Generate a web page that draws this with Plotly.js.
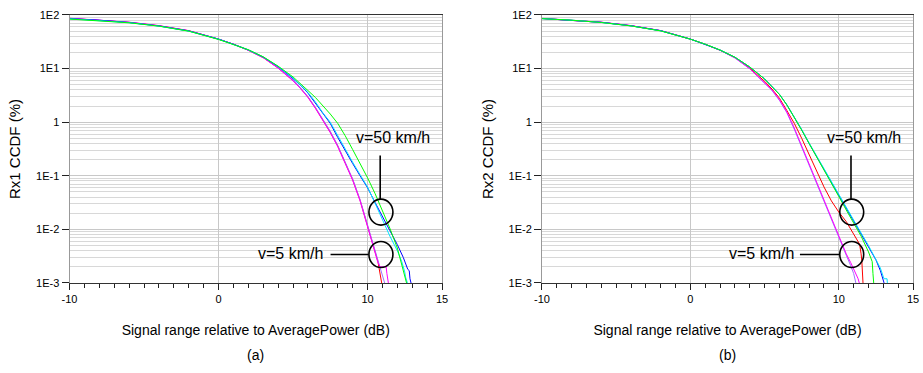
<!DOCTYPE html>
<html>
<head>
<meta charset="utf-8">
<script src="https://cdn.plot.ly/plotly-3.0.1.min.js"></script>
<style>html,body{margin:0;padding:0;background:#fff;}#chart{width:923px;height:373px;}</style>
</head>
<body>
<div id="chart"></div>
<script>
// ---------- Panel (a): Rx1 ----------
const A_red_x   = [-10,-8,-6,-4,-2,0,1,2,3,4,5,5.5,6,6.5,7,7.5,8,8.5,9,9.5,10,10.4,10.7,10.95];
const A_red_y   = [86.5,80.5,73,63,51,35.5,28.5,22,16,10.3,6.0,4.3,2.95,1.85,1.1,0.65,0.36,0.18,0.085,0.035,0.012,0.005,0.0025,0.001];
const A_vio_x   = [-10,-8,-6,-4,-2,0,1,2,3,4,5,5.5,6,6.5,7,7.5,8,8.5,9,9.5,10,10.4,10.7,10.95,11.15];
const A_vio_y   = [86,80,72.5,62.5,50.5,35.5,28.5,22,16.2,10.5,6.1,4.4,3.0,1.9,1.15,0.68,0.37,0.185,0.088,0.036,0.0125,0.0052,0.0027,0.0016,0.001];
const A_mag_x   = [-10,-8,-6,-4,-2,0,1,2,3,4,5,5.5,6,6.5,7,7.5,8,8.5,9,9.5,10,10.4,10.7,10.85,11.25,11.3,11.4];
const A_mag_y   = [87,81,73.5,63.5,51,35.5,28.5,22,16,10.2,5.9,4.25,2.9,1.82,1.08,0.64,0.35,0.175,0.083,0.034,0.0115,0.0049,0.0024,0.002,0.002,0.0015,0.001];
const A_blue_x  = [-10,-8,-6,-4,-2,0,1,2,3,4,5,5.5,6,6.5,7,7.5,8,8.5,9,9.5,10,10.5,11,11.5,12,12.4,12.7,12.8,12.85,12.92];
const A_blue_y  = [85.5,80,72.5,62.5,50.5,35.5,28.5,22.3,16.4,10.9,6.5,4.9,3.5,2.3,1.45,0.95,0.52,0.29,0.17,0.1,0.06,0.032,0.017,0.0095,0.0052,0.003,0.0018,0.0017,0.0012,0.001];
const A_cyan_x  = [-10,-8,-6,-4,-2,0,1,2,3,4,5,5.5,6,6.5,7,7.5,8,8.5,9,9.5,10,10.5,11,11.5,12,12.3,12.5,12.55,12.68];
const A_cyan_y  = [85,79.5,72,62,50,35.3,28.5,22.4,16.5,11,6.7,5.0,3.6,2.4,1.5,1.0,0.56,0.31,0.18,0.105,0.062,0.031,0.015,0.0075,0.004,0.0025,0.0016,0.0013,0.001];
const A_green_x = [-10,-8,-6,-4,-2,0,1,2,3,4,5,5.5,6,6.5,7,7.5,8,8.5,9,9.5,10,10.5,11,11.5,12,12.3,12.5,12.62];
const A_green_y = [84,78.5,71.5,62,50,35,28.5,22.5,16.6,11.1,7.0,5.3,3.9,2.9,2.05,1.42,0.95,0.56,0.31,0.17,0.092,0.047,0.023,0.0105,0.0045,0.0023,0.0014,0.001];

// ---------- Panel (b): Rx2 ----------
const B_red_x   = [-10,-8,-6,-4,-2,0,1,2,3,4,5,5.5,6,6.5,7,7.5,8,8.5,9,9.5,10,10.5,11,11.4,11.5,11.55,11.63];
const B_red_y   = [86,80.5,73,63,51,35.5,28.5,22,16,10.2,5.8,4.15,2.8,1.65,0.95,0.5,0.25,0.125,0.062,0.034,0.021,0.014,0.008,0.0053,0.0035,0.0026,0.001];
const B_vio_x   = [-10,-8,-6,-4,-2,0,1,2,3,4,5,5.5,6,6.5,7,7.5,8,8.5,9,9.5,10,10.5,10.8,11.0,11.15];
const B_vio_y   = [86,80.5,73,63,51,35.5,28.5,22,15.8,9.9,5.4,3.9,2.55,1.5,0.74,0.34,0.15,0.07,0.032,0.015,0.0068,0.0033,0.0021,0.0015,0.001];
const B_mag_x   = [-10,-8,-6,-4,-2,0,1,2,3,4,5,5.5,6,6.5,7,7.5,8,8.5,9,9.5,10,10.5,10.8,11.1,11.3,11.38];
const B_mag_y   = [86.5,81,73.5,63.5,51,35.5,28.5,22,15.9,10.0,5.5,4.0,2.62,1.55,0.78,0.36,0.16,0.075,0.034,0.016,0.0072,0.0035,0.0024,0.0016,0.0012,0.001];
const B_blue_x  = [-10,-8,-6,-4,-2,0,1,2,3,4,5,5.5,6,6.5,7,7.5,8,8.5,9,9.5,10,10.5,11,11.5,12,12.5,12.8,12.95,13.05];
const B_blue_y  = [86,80.5,73,63,51,35.5,28.5,22.2,16.3,10.7,6.4,4.7,3.3,2.1,1.25,0.72,0.4,0.23,0.13,0.075,0.043,0.025,0.0145,0.0085,0.0049,0.0027,0.0017,0.0013,0.001];
const B_cyan_x  = [-10,-8,-6,-4,-2,0,1,2,3,4,5,5.5,6,6.5,7,7.5,8,8.5,9,9.5,10,10.5,11,11.5,12,12.5,12.8,13.0,13.05,13.25,13.27];
const B_cyan_y  = [85.5,80,72.5,62.5,50.5,35.4,28.5,22.2,16.3,10.7,6.4,4.7,3.3,2.1,1.25,0.73,0.41,0.235,0.132,0.076,0.044,0.025,0.0145,0.0086,0.005,0.0028,0.0019,0.0013,0.0012,0.0012,0.001];
const B_green_x = [-10,-8,-6,-4,-2,0,1,2,3,4,5,5.5,6,6.5,7,7.5,8,8.5,9,9.5,10,10.5,11,11.5,12,12.25,12.3,12.35];
const B_green_y = [85.5,80,72.5,62.5,50.5,35.4,28.5,22.2,16.3,10.7,6.4,4.7,3.3,2.1,1.24,0.71,0.4,0.23,0.128,0.073,0.041,0.023,0.013,0.0075,0.0038,0.0025,0.0015,0.001];

// ---------- Axis labels / texts ----------
const xTickVals = [-10, 0, 10, 15];
const xTickText = ['-10', '0', '10', '15'];
const yTickVals = [0.001, 0.01, 0.1, 1, 10, 100];
const yTickText = ['1E-3', '1E-2', '1E-1', '1', '1E1', '1E2'];
const xTitle = 'Signal range relative to AveragePower (dB)';
const yTitleA = 'Rx1 CCDF (%)';
const yTitleB = 'Rx2 CCDF (%)';
const panelLabels = ['(a)', '(b)'];
const label50 = 'v=50 km/h';
const label5 = 'v=5 km/h';

const colors = {red:'#ff0000', vio:'#a070ff', mag:'#ff00ff', blue:'#0000ff', cyan:'#00e5ff', green:'#00ff00'};

function tr(x, y, c, xa, ya) {
  return {x: x, y: y, type: 'scatter', mode: 'lines', xaxis: xa, yaxis: ya,
          line: {color: c, width: 1}, showlegend: false, hoverinfo: 'skip'};
}

const data = [
  tr(A_red_x, A_red_y, colors.red, 'x', 'y'),
  tr(A_vio_x, A_vio_y, colors.vio, 'x', 'y'),
  tr(A_mag_x, A_mag_y, colors.mag, 'x', 'y'),
  tr(A_blue_x, A_blue_y, colors.blue, 'x', 'y'),
  tr(A_cyan_x, A_cyan_y, colors.cyan, 'x', 'y'),
  tr(A_green_x, A_green_y, colors.green, 'x', 'y'),
  tr(B_red_x, B_red_y, colors.red, 'x2', 'y2'),
  tr(B_vio_x, B_vio_y, colors.vio, 'x2', 'y2'),
  tr(B_mag_x, B_mag_y, colors.mag, 'x2', 'y2'),
  tr(B_blue_x, B_blue_y, colors.blue, 'x2', 'y2'),
  tr(B_cyan_x, B_cyan_y, colors.cyan, 'x2', 'y2'),
  tr(B_green_x, B_green_y, colors.green, 'x2', 'y2')
];

const FONT = 'Liberation Sans, Arial, sans-serif';

function xax(domain, anchor) {
  return {
    domain: domain, anchor: anchor, range: [-10, 15],
    tickmode: 'array', tickvals: xTickVals, ticktext: xTickText,
    ticks: 'outside', ticklen: 6, tickcolor: '#222', tickwidth: 1,
    showline: true, linecolor: '#333', linewidth: 1, mirror: true,
    showgrid: true, gridcolor: '#c8c8c8', gridwidth: 1, zeroline: false,
    minor: {dtick: 1, tick0: 0, ticks: 'outside', ticklen: 4, tickcolor: '#222', showgrid: false},
    tickfont: {family: FONT, size: 11, color: '#000'},
    title: {text: xTitle, font: {family: FONT, size: 14, color: '#000'}, standoff: 21}
  };
}
function yax(domain, anchor, title) {
  return {
    domain: domain, anchor: anchor, type: 'log', range: [-3, 2],
    tickmode: 'array', tickvals: yTickVals, ticktext: yTickText,
    ticks: 'outside', ticklen: 7, tickcolor: '#222', tickwidth: 1,
    showline: true, linecolor: '#999', linewidth: 1, mirror: true,
    showgrid: true, gridcolor: '#c8c8c8', gridwidth: 1, zeroline: false,
    minor: {dtick: 'D1', showgrid: true, gridcolor: '#d8d8d8', gridwidth: 1, ticks: ''},
    tickfont: {family: FONT, size: 11, color: '#000'},
    title: {text: title, font: {family: FONT, size: 15, color: '#000'}, standoff: 11}
  };
}

// helpers to convert data positions into axis-domain fractions
const XR = [-10, 15], YR = [-3, 2];
const fx = v => (v - XR[0]) / (XR[1] - XR[0]);
const fy = v => (Math.log10(v) - YR[0]) / (YR[1] - YR[0]);

// annotation anchor points (data units)
const ann = [
  {xa: 'x', ya: 'y', cx: 10.9, txt50x: 11.74, txt5x: 4.83, hx0: 7.52, hx1: 10.07},
  {xa: 'x2', ya: 'y2', cx: 10.87, txt50x: 11.68, txt5x: 4.77, hx0: 7.38, hx1: 10.07}
];
const circ50y = 0.021, circ5y = 0.0034, arrowTopY = 0.24, arrowBotY = 0.036, txt50y = 0.52, txt5y = 0.0036;
const rX = 12 / 372.5, rY = 13 / 268;   // ellipse radii in domain fractions

const shapes = [], annotations = [];
ann.forEach((a, i) => {
  const xr = a.xa + ' domain', yr = a.ya + ' domain';
  const lineStyle = {color: '#000', width: 1.6};
  [circ50y, circ5y].forEach(cy => {
    shapes.push({type: 'circle', xref: xr, yref: yr, layer: 'above',
                 x0: fx(a.cx) - rX, x1: fx(a.cx) + rX, y0: fy(cy) - rY, y1: fy(cy) + rY, line: lineStyle});
  });
  shapes.push({type: 'line', xref: xr, yref: yr, layer: 'above', x0: fx(a.cx - 0.05), x1: fx(a.cx - 0.05),
               y0: fy(arrowTopY), y1: fy(arrowBotY), line: lineStyle});
  shapes.push({type: 'line', xref: xr, yref: yr, layer: 'above', x0: fx(a.hx0), x1: fx(a.hx1),
               y0: fy(circ5y), y1: fy(circ5y), line: lineStyle});
  annotations.push({xref: a.xa, yref: a.ya, x: a.txt50x, y: Math.log10(txt50y), text: label50, showarrow: false,
                    font: {family: FONT, size: 16, color: '#000'}});
  annotations.push({xref: a.xa, yref: a.ya, x: a.txt5x, y: Math.log10(txt5y), text: label5, showarrow: false,
                    font: {family: FONT, size: 16, color: '#000'}});
  annotations.push({xref: xr, yref: 'paper', x: 0.5, y: 1 - 355 / 373, yanchor: 'middle',
                    text: panelLabels[i], showarrow: false, font: {family: FONT, size: 14, color: '#000'}});
});

const layout = {
  width: 923, height: 373,
  margin: {l: 0, r: 0, t: 0, b: 0},
  paper_bgcolor: '#fff', plot_bgcolor: '#fff',
  showlegend: false,
  font: {family: FONT, color: '#000'},
  xaxis: xax([0.0753, 0.4789], 'y'),
  yaxis: yax([0.2413, 0.9598], 'x', yTitleA),
  xaxis2: xax([0.5872, 0.9892], 'y2'),
  yaxis2: yax([0.2413, 0.9598], 'x2', yTitleB),
  shapes: shapes,
  annotations: annotations
};

Plotly.newPlot('chart', data, layout, {staticPlot: true, displayModeBar: false});
</script>
</body>
</html>
